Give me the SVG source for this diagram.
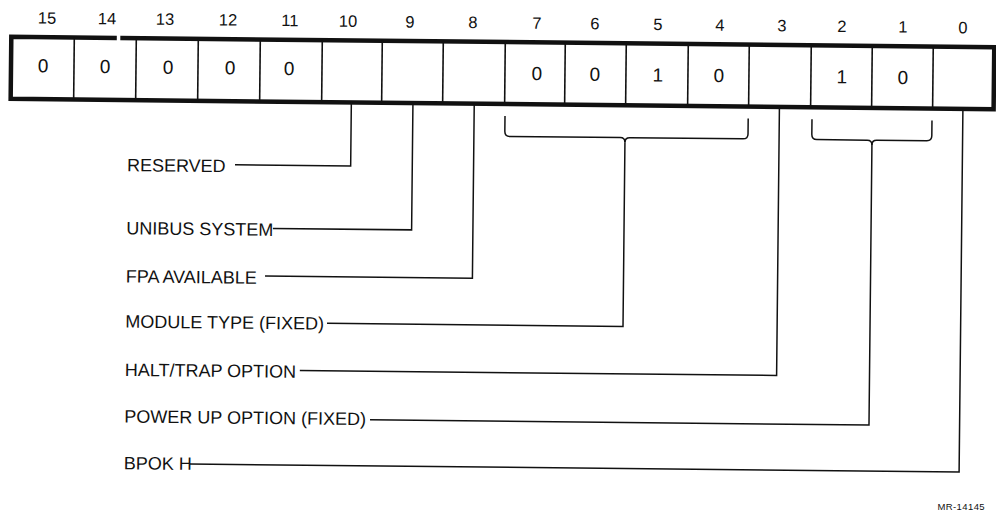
<svg xmlns="http://www.w3.org/2000/svg" width="996" height="518" viewBox="0 0 996 518">
<style>
  text { font-family: "Liberation Sans", Arial, Helvetica, sans-serif; fill: #111; }
  .bitnum { font-size: 16.5px; text-anchor: middle; }
  .val { font-size: 19px; text-anchor: middle; }
  .lbl { font-size: 18px; }
  .frame { fill: none; stroke: #111; stroke-width: 4.5; stroke-linejoin: miter; }
  .div { stroke: #111; stroke-width: 1.6; }
  .conn { fill: none; stroke: #111; stroke-width: 1.5; stroke-linejoin: miter; }
  .tag { font-size: 9.5px; text-anchor: end; letter-spacing: 0.4px; }
</style>
<rect width="996" height="518" fill="#fff"/>
<g transform="rotate(0.6 500 260)">
  <g id="register">
    <path class="frame" d="M114.5 42 H9 V104 H992 V42 H118"/>
    <g class="div">
      <line x1="72" y1="42" x2="72" y2="104"/>
      <line x1="134" y1="42" x2="134" y2="104"/>
      <line x1="196" y1="42" x2="196" y2="104"/>
      <line x1="258" y1="42" x2="258" y2="104"/>
      <line x1="320" y1="42" x2="320" y2="104"/>
      <line x1="380" y1="42" x2="380" y2="104"/>
      <line x1="441" y1="42" x2="441" y2="104"/>
      <line x1="503" y1="42" x2="503" y2="104"/>
      <line x1="563" y1="42" x2="563" y2="104"/>
      <line x1="624" y1="42" x2="624" y2="104"/>
      <line x1="686" y1="42" x2="686" y2="104"/>
      <line x1="747" y1="42" x2="747" y2="104"/>
      <line x1="809" y1="42" x2="809" y2="104"/>
      <line x1="870" y1="42" x2="870" y2="104"/>
      <line x1="931" y1="42" x2="931" y2="104"/>
    </g>
  </g>
  <g id="bit-numbers" class="bitnum">
    <text x="44.5" y="28.4">15</text>
    <text x="104.5" y="28.4">14</text>
    <text x="162.5" y="28.4">13</text>
    <text x="225.5" y="28.4">12</text>
    <text x="287.5" y="28.4">11</text>
    <text x="345.5" y="28.4">10</text>
    <text x="407.5" y="28.4">9</text>
    <text x="470.5" y="28.4">8</text>
    <text x="534.5" y="28.4">7</text>
    <text x="592.5" y="28.4">6</text>
    <text x="655.5" y="28.4">5</text>
    <text x="717.5" y="28.4">4</text>
    <text x="779.5" y="28.4">3</text>
    <text x="839.5" y="28.4">2</text>
    <text x="900.5" y="28.4">1</text>
    <text x="960.5" y="28.4">0</text>
  </g>
  <g id="cell-values" class="val">
    <text x="41" y="77.2">0</text>
    <text x="103" y="77.2">0</text>
    <text x="166" y="77.2">0</text>
    <text x="228" y="77.2">0</text>
    <text x="287" y="77.2">0</text>
    <text x="535" y="79.8">0</text>
    <text x="593" y="79.8">0</text>
    <text x="656" y="79.8">1</text>
    <text x="717" y="79.8">0</text>
    <text x="840" y="79.8">1</text>
    <text x="901" y="79.8">0</text>
  </g>
  <g id="connectors" class="conn">
    <path d="M349.7 104 V167.6 H234"/>
    <path d="M411.3 104 V230.8 H272.6"/>
    <path d="M472.6 104 V278.5 H265.2"/>
    <path d="M503.5 116 V131.3 Q503.5 136.3 508.5 136.3 H618.9 Q623.7 136.3 623.7 141"/>
    <path d="M746.7 116 V131.3 Q746.7 136.3 741.7 136.3 H628.5 Q623.7 136.3 623.7 141"/>
    <path d="M623.7 141 V325.1 H327.7"/>
    <path d="M777.8 104 V372.6 H301"/>
    <path d="M810.5 116 V131.3 Q810.5 136.3 815.5 136.3 H866 Q870.7 136.3 870.7 141"/>
    <path d="M930.5 116 V131.3 Q930.5 136.3 925.5 136.3 H875.4 Q870.7 136.3 870.7 141"/>
    <path d="M870.7 141 V421.2 H371.7"/>
    <path d="M961.3 104 V467.2 H192"/>
  </g>
  <g id="label-reserved"><text class="lbl" x="126" y="175.1">RESERVED</text></g>
  <g id="label-unibus-system"><text class="lbl" x="126" y="238.2">UNIBUS SYSTEM</text></g>
  <g id="label-fpa-available"><text class="lbl" x="126" y="286.4">FPA AVAILABLE</text></g>
  <g id="label-module-type"><text class="lbl" x="126" y="331.5">MODULE TYPE (FIXED)</text></g>
  <g id="label-halt-trap"><text class="lbl" x="126" y="379.9">HALT/TRAP OPTION</text></g>
  <g id="label-power-up"><text class="lbl" x="126" y="426.5">POWER UP OPTION (FIXED)</text></g>
  <g id="label-bpok"><text class="lbl" x="126" y="473.2">BPOK H</text></g>
</g>
<g id="figure-tag"><text class="tag" x="985" y="510">MR-14145</text></g>
</svg>
